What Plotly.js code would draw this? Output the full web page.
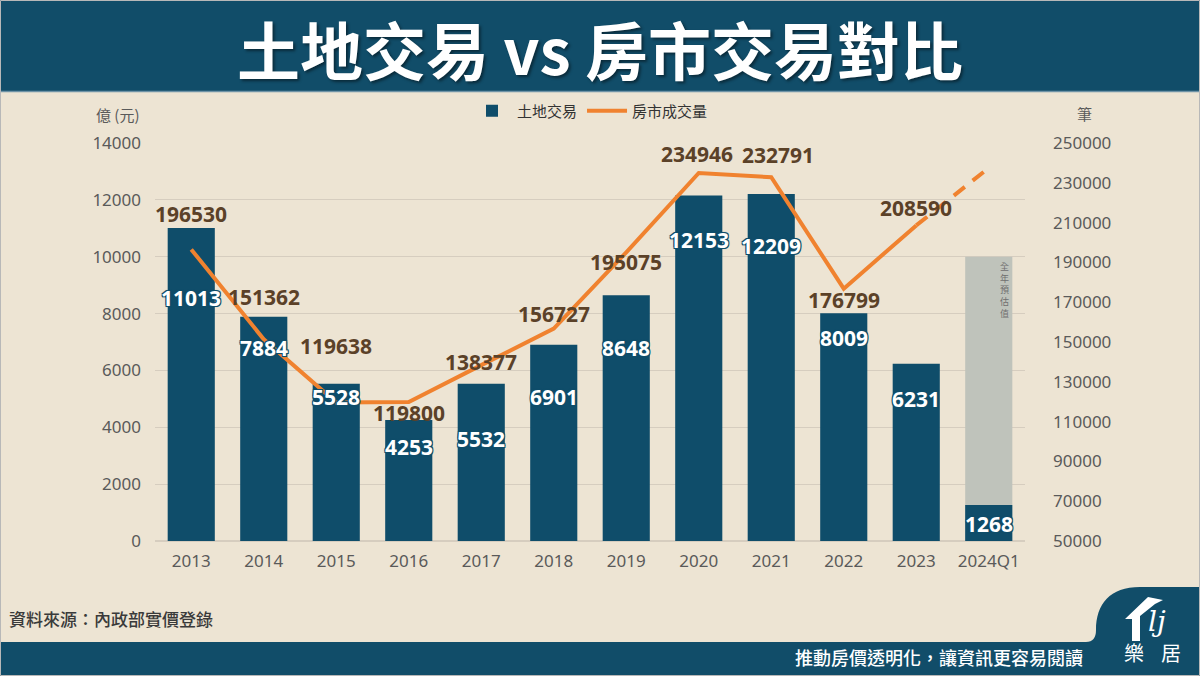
<!DOCTYPE html>
<html>
<head>
<meta charset="utf-8">
<script src="https://cdn.plot.ly/plotly-3.0.1.min.js"></script>
<style>
html,body{margin:0;padding:0;background:#ede4d3;}
#chart{width:1200px;height:676px;}
</style>
</head>
<body>
<div id="chart"></div>
<script>
// ---- data ----
const categories = ['2013','2014','2015','2016','2017','2018','2019','2020','2021','2022','2023','2024Q1'];
const landValues = [11013, 7884, 5528, 4253, 5532, 6901, 8648, 12153, 12209, 8009, 6231, 1268];
const housingYears = ['2013','2014','2015','2016','2017','2018','2019','2020','2021','2022','2023'];
const housingValues = [196530, 151362, 119638, 119800, 138377, 156727, 195075, 234946, 232791, 176799, 208590];
const forecastCategory = ['2024Q1'];
const forecastLand = [10000];
const projectionYears = ['2023','2024Q1'];
const projectionHousing = [208590, 237500];
const leftTicks = [0,2000,4000,6000,8000,10000,12000,14000];
const rightTicks = [50000,70000,90000,110000,130000,150000,170000,190000,210000,230000,250000];

// ---- styling ----
const BG = '#ede4d3';
const NAVY = '#0f4d6a';
const ORANGE = '#f0822f';
const GRID = '#d6cdbf';
const TICK = '#5a5a5a';
const BROWN = '#5b4128';
const FONT = '"Noto Sans", "Noto Sans CJK TC", sans-serif';
const CJK = '"Noto Sans CJK TC", "Noto Sans", sans-serif';
// label placement (pixel shifts, as hand-placed in the original)
const barLabelDrop = [70, 31, 13, 27, 55, 52, 53, 44, 52, 25, 35, 19];
const lineLabelLift = [35, 42, 56, -11, 3, 15, -10, 19, 22, -11, 17];
const lineLabelNudge = [0, 0, 0, 0, 0, 0, 0, -2, 7, 0, 0];

// plot area in pixels
const L = 155, R = 1025, T = 143, B = 541;
const px = x => (x - L) / (R - L);
const py = y => (B - y) / (B - T);
const pathPx = pts => 'M ' + pts.map(p => px(p[0]) + ' ' + py(p[1])).join(' L ') + ' Z';
const catIndex = c => categories.indexOf(c);

const traces = [
  {type:'bar', x:forecastCategory, y:forecastLand, marker:{color:'#bfc3bb'}, showlegend:false, hoverinfo:'skip', yaxis:'y'},
  {type:'bar', name:'土地交易', x:categories, y:landValues, marker:{color:NAVY}, hoverinfo:'skip', yaxis:'y'},
  {type:'scatter', mode:'lines', name:'房市成交量', x:housingYears, y:housingValues, yaxis:'y2',
    line:{color:ORANGE, width:4}, hoverinfo:'skip'},
  {type:'scatter', mode:'lines', x:projectionYears, y:projectionHousing, yaxis:'y2', showlegend:false,
    line:{color:ORANGE, width:4, dash:'14px,10px'}, hoverinfo:'skip'}
];

const annotations = [];
// bar value labels
const outline = '-1px -1px 0 '+NAVY+', 1px -1px 0 '+NAVY+', -1px 1px 0 '+NAVY+', 1px 1px 0 '+NAVY+', 0 0 2px '+NAVY;
categories.forEach((c,i) => {
  const v = landValues[i];
  annotations.push({xref:'x', yref:'y', x:i, y:v, yshift:-barLabelDrop[i], text:String(v), showarrow:false,
    font:{family:FONT, size:21, color:'#ffffff', weight:'bold', shadow:outline}, yanchor:'middle'});
});
// line value labels
housingYears.forEach((c,i) => {
  const v = housingValues[i];
  annotations.push({xref:'x', yref:'y2', x:catIndex(c), y:v, yshift:lineLabelLift[i], xshift:lineLabelNudge[i],
    text:String(v), showarrow:false,
    font:{family:FONT, size:21, color:BROWN, weight:'bold'}, yanchor:'middle'});
});
// forecast vertical note
annotations.push({xref:'x', yref:'y', x:catIndex(forecastCategory[0]), y:forecastLand[0],
  text:Array.from('全年預估值').join('<br>'), showarrow:false,
  xshift:16, yshift:-1, yanchor:'top', font:{family:CJK, size:9, color:'#6f6f6f'}});
// title
annotations.push({xref:'paper', yref:'paper', x:px(600), y:py(47), text:'土地交易 vs 房市交易對比', showarrow:false,
  xanchor:'center', yanchor:'middle',
  font:{family:CJK, size:63, color:'#ffffff', weight:'bold', shadow:'2px 2px 3px rgba(0,0,0,0.45)'}});
// axis titles
annotations.push({xref:'paper', yref:'paper', x:px(142), y:py(115), text:'億 (元)', showarrow:false,
  xanchor:'right', yanchor:'middle', font:{family:CJK, size:15, color:TICK}});
annotations.push({xref:'paper', yref:'paper', x:px(1084), y:py(113), text:'筆', showarrow:false,
  xanchor:'center', yanchor:'middle', font:{family:CJK, size:15, color:TICK}});
// source
annotations.push({xref:'paper', yref:'paper', x:px(7), y:py(618), text:'資料來源：內政部實價登錄', showarrow:false,
  xanchor:'left', yanchor:'middle', font:{family:CJK, size:17, color:'#3a3a3a', weight:500}});
// tagline
annotations.push({xref:'paper', yref:'paper', x:px(1085), y:py(657), text:'推動房價透明化，讓資訊更容易閱讀', showarrow:false,
  xanchor:'right', yanchor:'middle', font:{family:CJK, size:18, color:'#ffffff', weight:500}});
// logo text
annotations.push({xref:'paper', yref:'paper', x:px(1134), y:py(652), text:'樂', showarrow:false,
  xanchor:'center', yanchor:'middle', font:{family:CJK, size:20, color:'#ffffff'}});
annotations.push({xref:'paper', yref:'paper', x:px(1171), y:py(652), text:'居', showarrow:false,
  xanchor:'center', yanchor:'middle', font:{family:CJK, size:20, color:'#ffffff'}});
annotations.push({xref:'paper', yref:'paper', x:px(1157), y:py(621), text:'<i>lj</i>', showarrow:false,
  xanchor:'center', yanchor:'middle', font:{family:'"DejaVu Serif", serif', size:28, color:'#ffffff'}});

const shapes = [
  // title band
  {type:'rect', xref:'paper', yref:'paper', x0:px(0), x1:px(1200), y0:py(0), y1:py(91), fillcolor:'#114d69', line:{width:0}, layer:'below'},
  {type:'line', xref:'paper', yref:'paper', x0:px(0), x1:px(1200), y0:py(91.5), y1:py(91.5), line:{color:'#6f93a6', width:1.5}, layer:'below'},
  // bottom band with logo bump
  {type:'path', xref:'paper', yref:'paper', layer:'below', fillcolor:'#114d69', line:{width:0},
    path:'M '+px(0)+' '+py(642)+' L '+px(1086)+' '+py(642)+
         ' Q '+px(1096)+' '+py(642)+' '+px(1096)+' '+py(630)+
         ' C '+px(1096)+' '+py(604)+' '+px(1110)+' '+py(587)+' '+px(1140)+' '+py(587)+
         ' L '+px(1200)+' '+py(587)+' L '+px(1200)+' '+py(676)+' L '+px(0)+' '+py(676)+' Z'},
  // house icon
  {type:'path', xref:'paper', yref:'paper', fillcolor:'#ffffff', line:{width:0},
    path:pathPx([[1125,619],[1148,597],[1163,600],[1155,604],[1140,616],[1140,641],[1132,641],[1132,619]])},
  // outer border
  {type:'rect', xref:'paper', yref:'paper', x0:px(0.5), x1:px(1199.5), y0:py(0.5), y1:py(675.5), line:{color:'#b8b8b8', width:1}, fillcolor:'rgba(0,0,0,0)'}
];

const layout = {
  width:1200, height:676,
  margin:{l:L, r:1200-R, t:T, b:676-B, pad:0},
  paper_bgcolor:BG, plot_bgcolor:BG,
  barmode:'overlay', bargap:0.35,
  showlegend:true,
  legend:{orientation:'h', x:0.5, xanchor:'center', y:py(111), yanchor:'middle',
    font:{family:CJK, size:15, color:'#333333'}, bgcolor:'rgba(0,0,0,0)', itemwidth:40, traceorder:'normal'},
  xaxis:{type:'category', categoryarray:categories, categoryorder:'array', range:[-0.5, categories.length - 0.5],
    autorange:false, showgrid:false, zeroline:false,
    showline:false, ticks:'', tickfont:{family:FONT, size:17, color:TICK}, ticklabelstandoff:8, fixedrange:true},
  yaxis:{range:[0,14000], autorange:false, tickvals:leftTicks, tickformat:'d', showgrid:true, gridcolor:GRID, gridwidth:1.2,
    zeroline:true, zerolinecolor:GRID, zerolinewidth:1.5, showline:false, ticks:'',
    tickfont:{family:FONT, size:17, color:TICK}, ticklabelstandoff:13, fixedrange:true},
  yaxis2:{overlaying:'y', side:'right', range:[50000,250000], autorange:false, tickvals:rightTicks, tickformat:'d',
    showgrid:false, zeroline:false, showline:false, ticks:'',
    tickfont:{family:FONT, size:17, color:TICK}, ticklabelstandoff:27, fixedrange:true},
  annotations:annotations,
  shapes:shapes,
  font:{family:FONT}
};

Plotly.newPlot('chart', traces, layout, {displayModeBar:false, staticPlot:true});
</script>
</body>
</html>
